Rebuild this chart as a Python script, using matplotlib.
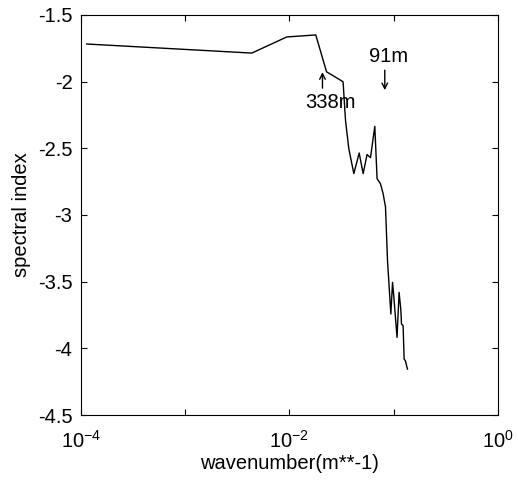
import matplotlib
matplotlib.use('Agg')
import matplotlib.pyplot as plt
import numpy as np
from matplotlib.ticker import FixedLocator, FuncFormatter, NullLocator

plt.rcParams['font.family'] = ['Liberation Sans', 'DejaVu Sans']
plt.rcParams['axes.unicode_minus'] = False
plt.rcParams['mathtext.fontset'] = 'custom'
plt.rcParams['mathtext.rm'] = 'Liberation Sans'
plt.rcParams['mathtext.it'] = 'Liberation Sans'

# data
wavenumber = [1.14e-4, 4.37e-3, 9.46e-3, 0.01795, 0.02275, 0.0328, 0.0346, 0.0372,
              0.0416, 0.0468, 0.0511, 0.0557, 0.0601, 0.0661, 0.0695, 0.0749,
              0.0794, 0.0837, 0.0875, 0.0942, 0.0978, 0.1005, 0.108, 0.113,
              0.1174, 0.1192, 0.1235, 0.1263, 0.130, 0.136]
spectral_index = [-1.718, -1.786, -1.665, -1.650, -1.926, -2.001, -2.29, -2.502,
                  -2.69, -2.535, -2.69, -2.547, -2.57, -2.335, -2.728, -2.766,
                  -2.84, -2.94, -3.342, -3.743, -3.505, -3.61, -3.918, -3.58,
                  -3.71, -3.818, -3.83, -4.08, -4.094, -4.156]

x_ticks = [1e-4, 1e-3, 1e-2, 1e-1, 1e0]
x_labeled = [1e-4, 1e-2, 1e0]
y_ticks = [-4.5, -4, -3.5, -3, -2.5, -2, -1.5]

fs = 14.5
fig = plt.figure(figsize=(5.18, 4.82), dpi=100)
ax = fig.add_axes([0.156, 0.139, 0.805, 0.830])

ax.plot(wavenumber, spectral_index, c='k', lw=1.0)

ax.set_xscale('log')
ax.set_xlim(1e-4, 1)
ax.set_ylim(-4.5, -1.5)
ax.xaxis.set_major_locator(FixedLocator(x_ticks))
ax.xaxis.set_minor_locator(NullLocator())
ax.xaxis.set_major_formatter(FuncFormatter(
    lambda v, p: r'$10^{%d}$' % round(np.log10(v)) if any(np.isclose(v, x_labeled)) else ''))
ax.set_yticks(y_ticks)
ax.yaxis.set_major_formatter(FuncFormatter(lambda v, p: '%g' % v))
ax.tick_params(direction='in', top=True, right=True, length=4, width=0.8,
               labelsize=fs)
ax.tick_params(axis='x', pad=11)
ax.tick_params(axis='y', pad=6)
for s in ax.spines.values():
    s.set_linewidth(0.8)

ax.set_xlabel('wavenumber(m**-1)', fontsize=fs, labelpad=1)
ax.set_ylabel('spectral index', fontsize=fs, labelpad=5)

# annotations
arrow = dict(arrowstyle='->', lw=1.0, color='k', shrinkA=0, shrinkB=0)
ax.text(0.090, -1.808, '91m', fontsize=fs, ha='center', va='center')
ax.annotate('', xy=(0.0824, -2.064), xytext=(0.0824, -1.914), arrowprops=arrow)
ax.text(0.025, -2.154, '338m', fontsize=fs, ha='center', va='center')
ax.annotate('', xy=(0.0208, -1.929), xytext=(0.0208, -2.049), arrowprops=arrow)

plt.savefig('out.png', dpi=100)
